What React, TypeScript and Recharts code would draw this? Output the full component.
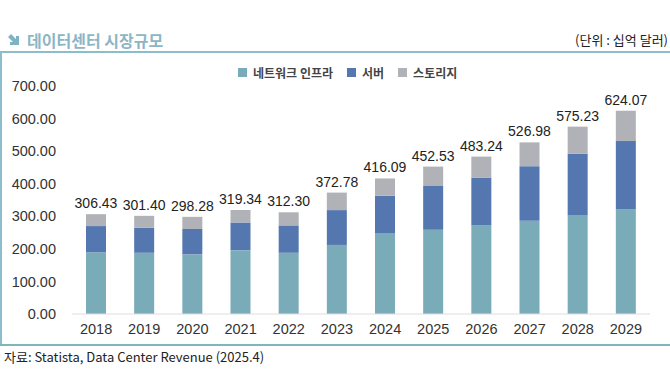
import React from "react";
import { BarChart, Bar, XAxis, YAxis, LabelList } from "recharts";

const years = ["2018", "2019", "2020", "2021", "2022", "2023", "2024", "2025", "2026", "2027", "2028", "2029"];
const totals = [306.43, 301.4, 298.28, 319.34, 312.3, 372.78, 416.09, 452.53, 483.24, 526.98, 575.23, 624.07];
const network = [189, 188, 183, 196, 188, 212, 247, 259, 272, 286, 304, 321];
const server = [81, 77, 78, 85, 84, 107, 116, 134, 146, 168, 188, 210];
const storage = totals.map((t, i) => +(t - network[i] - server[i]).toFixed(2));
const yTicks = [0, 100, 200, 300, 400, 500, 600, 700];

const seriesNames = ["네트워크 인프라", "서버", "스토리지"];
const seriesColors = ["#7aabb8", "#5577b0", "#b1b2b7"];

const data = years.map((y, i) => ({
  year: y,
  network: network[i],
  server: server[i],
  storage: storage[i],
  total: totals[i],
}));

const FONT = "'Liberation Sans', Arial, sans-serif";
const KFONT = "'Noto Sans CJK KR', 'Noto Sans', sans-serif";

export default function App() {
  return (
    <div style={{ position: "absolute", left: 0, top: 0, width: 670, height: 375, background: "#fff", overflow: "hidden" }}>
      {/* title */}
      <svg style={{ position: "absolute", left: 7, top: 33 }} width={14} height={14} viewBox="0 0 14 14">
        <polygon points="1,4 4,1 9,6 9,3 12,3 12,12 3,12 3,9 6,9" fill="#7fb2c4" />
      </svg>
      <div style={{ position: "absolute", left: 27, top: 29, fontFamily: KFONT, fontWeight: 700, fontSize: 16, color: "#8cb6c6", lineHeight: "22px", whiteSpace: "nowrap" }}>
        데이터센터 시장규모
      </div>
      <div style={{ position: "absolute", right: 2, top: 31, fontFamily: KFONT, fontSize: 13, color: "#222", lineHeight: "18px", whiteSpace: "nowrap" }}>
        (단위 : 십억 달러)
      </div>
      {/* frame */}
      <div style={{ position: "absolute", left: 0, top: 51, width: 670, height: 2, background: "#8bbdcc" }} />
      <div style={{ position: "absolute", left: 0, top: 51, width: 2, height: 295, background: "#8bbdcc" }} />
      <div style={{ position: "absolute", left: 0, top: 344, width: 670, height: 2, background: "#7fb6bc" }} />
      {/* legend */}
      <div style={{ position: "absolute", left: 238, top: 63, height: 18, display: "flex", alignItems: "center", fontFamily: KFONT, fontSize: 12, fontWeight: 700, color: "#444", whiteSpace: "nowrap" }}>
        {seriesNames.map((n, i) => (
          <div key={n} style={{ display: "flex", alignItems: "center", marginRight: 14 }}>
            <span style={{ display: "inline-block", width: 9, height: 9, background: seriesColors[i], marginRight: 6 }} />
            <span>{n}</span>
          </div>
        ))}
      </div>
      {/* chart */}
      <div style={{ position: "absolute", left: 0, top: 53 }}>
        <BarChart width={670} height={292} data={data} margin={{ top: 33, right: 20, bottom: 0, left: 0 }} barSize={20}>
          <XAxis
            dataKey="year"
            axisLine={{ stroke: "#dddddd" }}
            tickLine={false}
            tick={{ fontSize: 14.5, fill: "#333", fontFamily: FONT }}
            tickMargin={4}
            height={31}
            interval={0}
          />
          <YAxis
            domain={[0, 700]}
            ticks={yTicks}
            axisLine={false}
            tickLine={false}
            width={72}
            tick={{ fontSize: 14.5, fill: "#333", fontFamily: FONT }}
            tickFormatter={(v: number) => v.toFixed(2)}
            tickMargin={10}
          />
          <Bar dataKey="network" stackId="a" fill={seriesColors[0]} isAnimationActive={false} name={seriesNames[0]} />
          <Bar dataKey="server" stackId="a" fill={seriesColors[1]} isAnimationActive={false} name={seriesNames[1]} />
          <Bar dataKey="storage" stackId="a" fill={seriesColors[2]} isAnimationActive={false} name={seriesNames[2]}>
            <LabelList
              dataKey="total"
              position="top"
              offset={6}
              formatter={(v: number) => v.toFixed(2)}
              style={{ fontSize: 14, fill: "#222", fontFamily: FONT }}
            />
          </Bar>
        </BarChart>
      </div>
      {/* footer */}
      <div style={{ position: "absolute", left: 4, top: 347, fontFamily: KFONT, fontSize: 13, color: "#222", lineHeight: "20px", whiteSpace: "nowrap" }}>
        자료: Statista, Data Center Revenue (2025.4)
      </div>
    </div>
  );
}
